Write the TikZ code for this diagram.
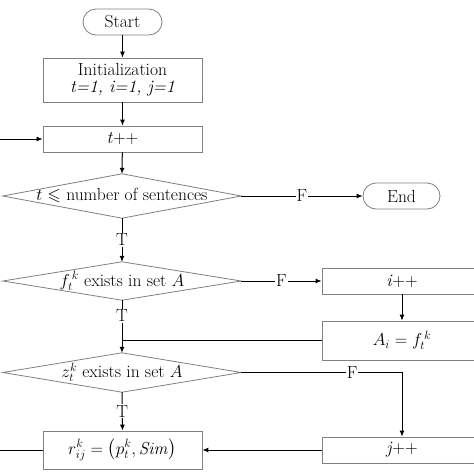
\documentclass[tikz,border=0pt]{standalone}
\usepackage{amssymb}
\usetikzlibrary{arrows.meta}
\begin{document}
\begin{tikzpicture}[x=1pt,y=-1pt,
  every node/.style={font=\fontsize{17.5}{19}\selectfont},
  boxst/.style={draw=black!50,line width=0.8pt,rectangle,inner sep=0pt,align=center},
  termst/.style={boxst,rounded corners=13pt},
  decst/.style={rectangle,inner sep=0pt},
  decline/.style={draw=black!50,line width=0.8pt},
  conn/.style={line width=1pt,black},
  arr/.style={conn,-{Latex[length=6pt,width=5pt]}},
  lbl/.style={fill=white,inner sep=1pt}]
\useasboundingbox[fill=white] (0,0) rectangle (474,474);
\node[termst,minimum width=79pt,minimum height=26pt] (start) at (122.5,22) {Start};
\node[boxst,minimum width=159pt,minimum height=44pt] (init) at (122.5,80) {Initialization\\[-2pt]\textit{t=1, i=1, j=1}};
\node[boxst,minimum width=159pt,minimum height=26pt] (tpp) at (122.5,139) {\textit{t}++};
\node[decst,minimum width=238pt,minimum height=44pt] (d1) at (122,196) {$t\leqslant$ number of sentences};
\node[termst,minimum width=77pt,minimum height=26pt] (end) at (401.5,196) {End};
\node[decst,minimum width=238pt,minimum height=38pt] (d2) at (122,281) {$f_t^{\,k}$ exists in set $A$};
\node[boxst,minimum width=160pt,minimum height=26pt] (ipp) at (402,281) {\textit{i}++};
\node[boxst,minimum width=160pt,minimum height=39pt] (ai) at (402,340.5) {$A_i=f_t^{\,k}$};
\node[decst,minimum width=238pt,minimum height=39pt] (d3) at (122,372.5) {$z_t^k$ exists in set $A$};
\node[boxst,minimum width=160pt,minimum height=26pt] (jpp) at (402,450) {\textit{j}++};
\node[boxst,minimum width=159pt,minimum height=38pt] (r) at (122.5,450) {$r_{ij}^k=\left(p_t^k,\mathit{Sim}\right)$};
\foreach \d in {d1,d2,d3}
  \draw[decline] (\d.north) -- (\d.east) -- (\d.south) -- (\d.west) -- cycle;
\coordinate (loopin) at (0,139);
\coordinate (loopout) at (0,450);
\coordinate (merge) at (d3.north |- ai.west);
\coordinate (fcorner) at (jpp.north |- d3.east);
\draw[arr] (start) -- (init);
\draw[arr] (init) -- (tpp);
\draw[arr] (tpp) -- (d1.north);
\draw[arr] (d1.east) -- node[lbl,pos=0.5]{F} (end.west);
\draw[arr] (d1.south) -- node[lbl]{T} (d2.north);
\draw[arr] (d2.east) -- node[lbl]{F} (ipp.west);
\draw[arr] (d2.south) -- node[lbl,pos=0.3]{T} (d3.north);
\draw[arr] (ipp) -- (ai);
\draw[conn] (ai.west) -- (merge);
\draw[arr] (d3.east) -- node[lbl,pos=0.69]{F} (fcorner) -- (jpp.north);
\draw[arr] (d3.south) -- node[lbl]{T} (r.north);
\draw[arr] (jpp.west) -- (r.east);
\draw[conn] (r.west) -- (loopout);
\draw[arr] (loopin) -- (tpp.west);
\end{tikzpicture}
\end{document}
